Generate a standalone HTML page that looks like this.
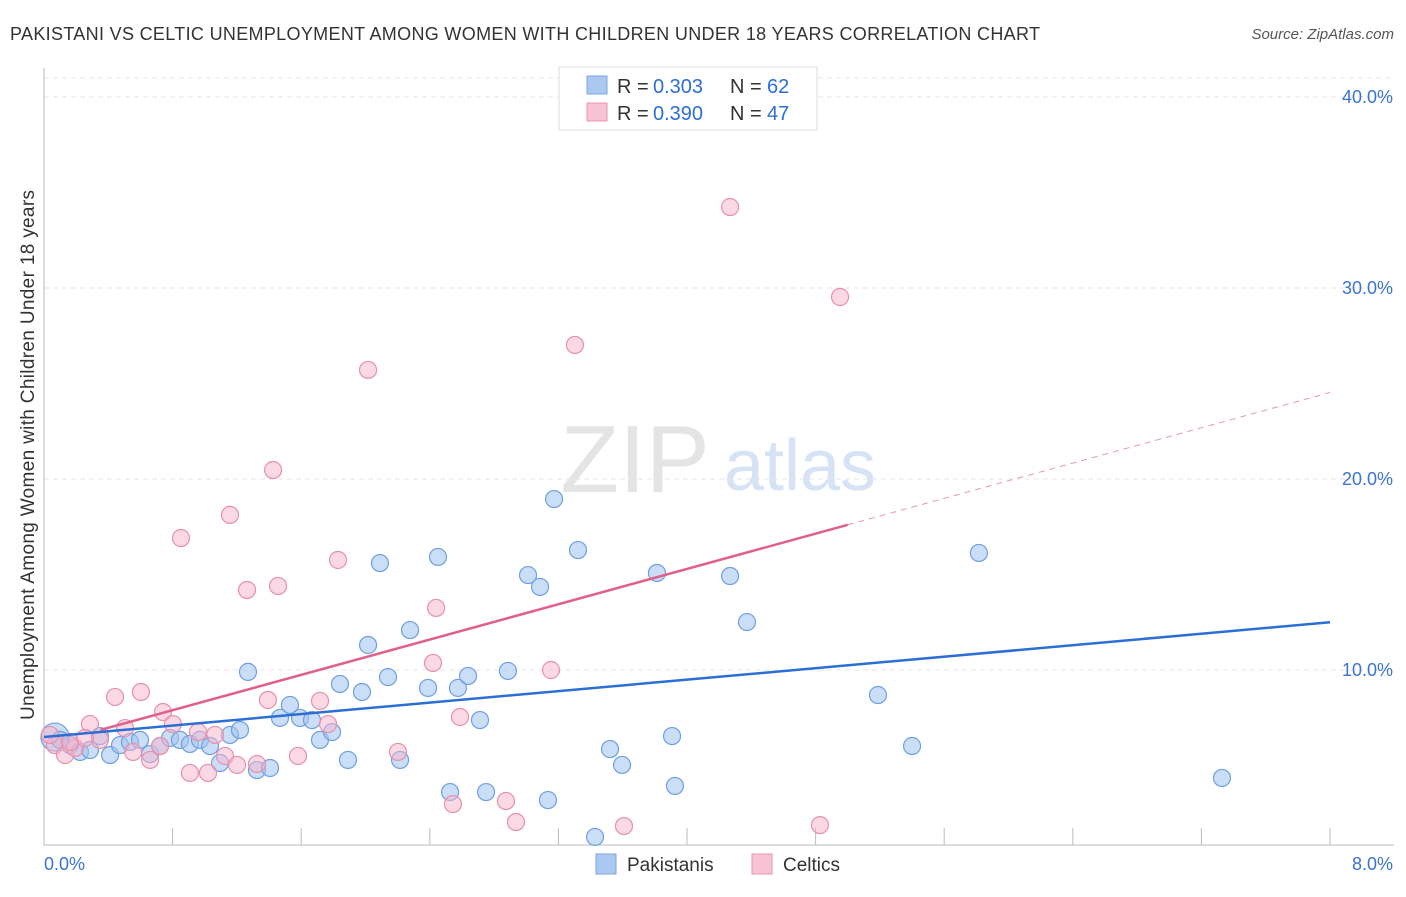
<!DOCTYPE html>
<html><head><meta charset="utf-8"><style>
body{margin:0;background:#fff;font-family:"Liberation Sans",sans-serif}
svg text{font-family:"Liberation Sans",sans-serif}
</style></head><body>
<svg id="c" width="1406" height="892" xmlns="http://www.w3.org/2000/svg">
<text x="10" y="40" font-size="18" textLength="1030" fill="#333">PAKISTANI VS CELTIC UNEMPLOYMENT AMONG WOMEN WITH CHILDREN UNDER 18 YEARS CORRELATION CHART</text>
<text x="1394" y="39" font-size="15" fill="#555" text-anchor="end" font-style="italic">Source: ZipAtlas.com</text>
<text x="635" y="492" font-size="96" fill="#e4e4e4" font-family="Liberation Serif" text-anchor="middle">ZIP</text>
<text x="800" y="490" font-size="72" fill="#d6e3f5" text-anchor="middle">atlas</text>
<text transform="translate(34,455) rotate(-90)" font-size="19" textLength="530" fill="#333" text-anchor="middle">Unemployment Among Women with Children Under 18 years</text>
<g id="grid"></g><g id="marks"></g>
<g>
<rect x="559" y="67" width="258" height="63" fill="#fff" stroke="#ddd"/>
<rect x="587" y="76" width="20" height="18" fill="#aac8f0" stroke="#7aa6e0"/>
<text x="617" y="93" font-size="20" fill="#333">R =</text><text x="653" y="93" font-size="20" fill="#2b6fd6">0.303</text>
<text x="730" y="93" font-size="20" fill="#333">N =</text><text x="767" y="93" font-size="20" fill="#2b6fd6">62</text>
<rect x="587" y="103" width="20" height="18" fill="#f7c3d4" stroke="#e896b0"/>
<text x="617" y="120" font-size="20" fill="#333">R =</text><text x="653" y="120" font-size="20" fill="#2b6fd6">0.390</text>
<text x="730" y="120" font-size="20" fill="#333">N =</text><text x="767" y="120" font-size="20" fill="#2b6fd6">47</text>
</g>
<g>
<rect x="596" y="854" width="20" height="20" fill="#aac8f0" stroke="#7aa6e0"/>
<text x="627" y="871" font-size="19" fill="#333">Pakistanis</text>
<rect x="752" y="854" width="20" height="20" fill="#f7c3d4" stroke="#e896b0"/>
<text x="783" y="871" font-size="19" fill="#333">Celtics</text>
</g>
</svg>
<script>
const yTicks=[10,20,30,40];
const yTickLabels=["10.0%","20.0%","30.0%","40.0%"];
const xTickLabels=["0.0%","8.0%"];
const pakX=[0.068,0.162,0.224,0.286,0.411,0.473,0.535,0.597,0.660,0.722,0.784,0.846,0.908,0.970,1.033,1.095,1.157,1.219,1.269,1.325,1.406,1.468,1.530,1.593,1.667,1.717,1.792,1.841,1.891,1.978,2.016,2.090,2.140,2.215,2.277,2.389,2.451,2.526,2.575,2.638,2.712,2.750,2.886,3.011,3.086,3.135,3.173,3.322,3.428,3.521,3.596,3.813,3.907,3.925,4.268,4.373,5.188,5.400,5.816,7.328,0.100,0.348];
const pakY=[6.49,6.07,5.71,5.81,5.55,6.07,6.23,6.34,5.60,6.02,6.44,6.34,6.13,6.34,6.02,5.13,6.60,6.86,9.90,4.76,4.87,7.49,8.17,7.49,7.38,6.34,6.75,9.27,5.29,8.85,11.31,15.60,9.63,5.29,12.09,9.06,15.92,3.61,9.06,9.69,7.38,3.61,9.95,14.97,14.35,3.19,18.95,16.28,1.26,5.86,5.03,15.08,6.54,3.93,14.92,12.51,8.69,6.02,16.13,4.35,6.34,6.54];
const celX=[0.068,0.131,0.193,0.286,0.348,0.442,0.504,0.554,0.603,0.660,0.722,0.740,0.802,0.852,0.908,0.958,1.020,1.064,1.126,1.157,1.201,1.263,1.325,1.393,1.425,1.456,1.580,1.717,1.767,1.829,2.016,2.202,2.420,2.439,2.544,2.588,2.874,2.936,3.154,3.303,3.608,4.268,4.827,4.952,0.037,0.162,0.255];
const celY=[6.07,5.55,5.92,7.17,6.34,8.59,6.96,5.71,8.85,5.29,6.02,7.80,7.17,16.91,4.61,6.75,4.61,6.60,5.50,18.12,5.03,14.19,5.08,8.43,20.47,14.40,5.50,8.38,7.17,15.76,25.71,5.71,10.37,13.25,2.98,7.54,3.14,2.04,10.00,27.02,1.83,34.24,1.88,29.53,6.60,6.23,6.44];
const bigIdx=0;
const X=v=>44+v*160.75, Y=v=>861-v*19.1;
const NS="http://www.w3.org/2000/svg";
const gridG=document.getElementById('grid'), marksG=document.getElementById('marks');
function mk(tag,attrs,parent){const e=document.createElementNS(NS,tag);for(const k in attrs)e.setAttribute(k,attrs[k]);parent.appendChild(e);return e;}
yTicks.forEach((t,i)=>{
 const l=mk('line',{x1:44,x2:1394,y1:Y(t),y2:Y(t),stroke:'#e4e4e4','stroke-dasharray':'5,4'},gridG);
 
 
 const tx=mk('text',{x:1393,y:Y(t)+6,'font-size':18,fill:'#3b74d0','text-anchor':'end'},gridG);
 tx.textContent=yTickLabels[i];
 
 
});
const topLine=mk('line',{x1:44,x2:1394,y1:78,y2:78,stroke:'#e4e4e4','stroke-dasharray':'5,4'},gridG);


const ax=mk('line',{x1:44,x2:1394,y1:845,y2:845,stroke:'#bbb'},gridG);


const ay=mk('line',{x1:44,x2:44,y1:68,y2:845,stroke:'#bbb'},gridG);


for(let i=0;i<=10;i++){const t=mk('line',{x1:X(i*0.8),x2:X(i*0.8),y1:828,y2:845,stroke:'#bbb'},gridG);
 
 }
xTickLabels.forEach((s,i)=>{const t=mk('text',{x:i?1393:44,y:870,'font-size':18,fill:'#3b74d0','text-anchor':i?'end':'start'},gridG);t.textContent=s;
 
 });
pakX.forEach((x,i)=>{const c=mk('circle',{cx:X(x),cy:Y(pakY[i]),r:i===bigIdx?14:8.5,fill:'rgba(160,195,240,0.55)',stroke:'#6f9fe0','stroke-width':1.2},marksG);
 
 });
celX.forEach((x,i)=>{const c=mk('circle',{cx:X(x),cy:Y(celY[i]),r:8.5,fill:'rgba(245,180,204,0.5)',stroke:'#e890aa','stroke-width':1.2},marksG);
 
 });
const bl=mk('line',{x1:X(0),y1:Y(6.49),x2:X(8),y2:Y(12.5),stroke:'#2b6fd6','stroke-width':2.5},marksG);


const pf=v=>6.05+2.31*v;
const pl=mk('line',{x1:X(0.35),y1:Y(pf(0.35)),x2:X(5.0),y2:Y(pf(5.0)),stroke:'#e0608a','stroke-width':2.5},marksG);


const pd=mk('line',{x1:X(5.0),y1:Y(pf(5.0)),x2:X(8),y2:Y(pf(8)),stroke:'#e896b0','stroke-width':1,'stroke-dasharray':'6,5'},marksG);


</script>
</body></html>
